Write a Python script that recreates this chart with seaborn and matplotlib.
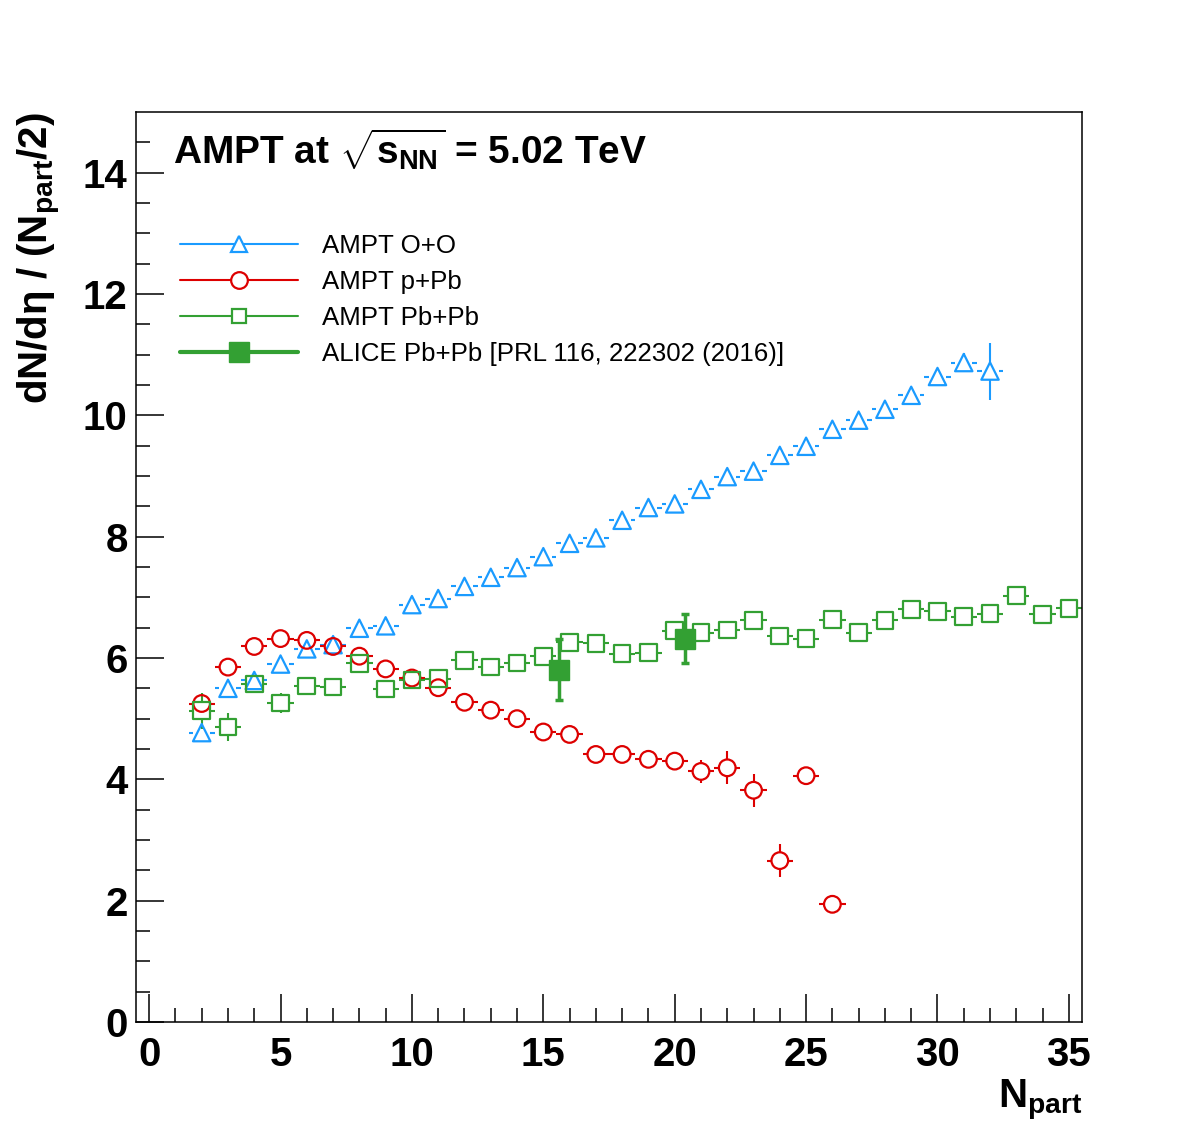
import numpy as np
import matplotlib
matplotlib.use('Agg')
import matplotlib.pyplot as plt
import seaborn as sns
from matplotlib.lines import Line2D

# AMPT O+O
npart_oo = list(range(2, 33))
dn_oo = [4.77, 5.50, 5.63, 5.90, 6.15, 6.22, 6.49, 6.53, 6.88, 6.98, 7.18,
         7.33, 7.49, 7.67, 7.89, 7.98, 8.27, 8.48, 8.54, 8.78, 8.99, 9.08,
         9.34, 9.49, 9.77, 9.92, 10.10, 10.33, 10.64, 10.87, 10.73]
err_oo = [0.05] * 29 + [0.16, 0.47]

# AMPT p+Pb
npart_ppb = list(range(2, 27))
dn_ppb = [5.25, 5.85, 6.19, 6.32, 6.29, 6.19, 6.03, 5.82, 5.67, 5.51, 5.27,
          5.14, 5.00, 4.78, 4.74, 4.41, 4.41, 4.33, 4.30, 4.13, 4.19, 3.82,
          2.66, 4.06, 1.94]
err_ppb = [0.12] + [0.05] * 18 + [0.19, 0.27, 0.27, 0.27, 0.08, 0.08]

# AMPT Pb+Pb
npart_pbpb = list(range(2, 36))
dn_pbpb = [5.13, 4.86, 5.57, 5.26, 5.54, 5.52, 5.91, 5.49, 5.64, 5.66, 5.96,
           5.85, 5.92, 6.03, 6.26, 6.24, 6.07, 6.09, 6.45, 6.42, 6.46, 6.62,
           6.36, 6.32, 6.63, 6.42, 6.62, 6.80, 6.77, 6.68, 6.73, 7.03, 6.72,
           6.82]
err_pbpb = [0.3, 0.23, 0.15, 0.17, 0.15, 0.08, 0.14] + [0.08] * 27

# ALICE Pb+Pb
npart_alice = [15.6, 20.4]
dn_alice = [5.81, 6.32]
err_alice = [0.50, 0.41]

labels = ['AMPT O+O', 'AMPT p+Pb', 'AMPT Pb+Pb',
          'ALICE Pb+Pb [PRL 116, 222302 (2016)]']

c_oo = '#1a9bff'
c_ppb = '#dd0000'
c_pbpb = '#33a033'

sns.set_theme(style='ticks')
plt.rcParams['font.family'] = ['Liberation Sans', 'DejaVu Sans']
plt.rcParams['mathtext.fontset'] = 'custom'
plt.rcParams['mathtext.rm'] = 'Liberation Sans:bold'
plt.rcParams['mathtext.bf'] = 'Liberation Sans:bold'
plt.rcParams['mathtext.it'] = 'Liberation Sans:bold'
plt.rcParams['mathtext.default'] = 'bf'
for key in ['text.color', 'axes.labelcolor', 'xtick.color', 'ytick.color']:
    plt.rcParams[key] = 'black'

fig = plt.figure(figsize=(11.82, 11.36), dpi=100)
ax = fig.add_axes([136 / 1182, 1 - 1022 / 1136, 946 / 1182, 910 / 1136])
xlim = (-0.5, 35.5)
ylim = (0, 15)
ax.set_xlim(*xlim)
ax.set_ylim(*ylim)

# marker half size (px) converted to data units, so error bars stop at the marker
half_px = 8.5
gx = half_px * (xlim[1] - xlim[0]) / 946
gy = half_px * (ylim[1] - ylim[0]) / 910


def draw_errors(x, y, e, color):
    x = np.asarray(x, float)
    y = np.asarray(y, float)
    e = np.asarray(e, float)
    ax.hlines(y, x - 0.5, x - gx, color=color, lw=1.5, zorder=2)
    ax.hlines(y, x + gx, x + 0.5, color=color, lw=1.5, zorder=2)
    m = e > gy
    ax.vlines(x[m], y[m] + gy, y[m] + e[m], color=color, lw=1.5, zorder=2)
    ax.vlines(x[m], y[m] - e[m], y[m] - gy, color=color, lw=1.5, zorder=2)


draw_errors(npart_oo, dn_oo, err_oo, c_oo)
draw_errors(npart_ppb, dn_ppb, err_ppb, c_ppb)
draw_errors(npart_pbpb, dn_pbpb, err_pbpb, c_pbpb)

sns.scatterplot(x=npart_oo, y=dn_oo, marker='^', s=12.5 ** 2, facecolor='none',
                edgecolor=c_oo, linewidth=1.6, ax=ax, zorder=3)
sns.scatterplot(x=npart_ppb, y=dn_ppb, marker='o', s=12 ** 2, facecolor='none',
                edgecolor=c_ppb, linewidth=1.6, ax=ax, zorder=3)
sns.scatterplot(x=npart_pbpb, y=dn_pbpb, marker='s', s=12 ** 2, facecolor='none',
                edgecolor=c_pbpb, linewidth=1.6, ax=ax, zorder=3)

ax.errorbar(npart_alice, dn_alice, yerr=err_alice, fmt='s', ms=15,
            color=c_pbpb, ecolor=c_pbpb, elinewidth=2.5, capsize=3,
            capthick=2.5, zorder=4)

# axes styling (ROOT-like)
for s in ax.spines.values():
    s.set_linewidth(1.1)
    s.set_color('black')
ax.set_xticks(np.arange(0, 36, 5))
ax.set_xticks(np.arange(0, 36, 1), minor=True)
ax.set_yticks(np.arange(0, 15, 2))
ax.set_yticks(np.arange(0, 15, 0.5), minor=True)
ax.tick_params(axis='both', which='both', direction='in', top=False,
               right=False, color='black', width=1.1)
ax.tick_params(axis='both', which='major', length=20, labelsize=29)
ax.tick_params(axis='both', which='minor', length=10)
ax.tick_params(axis='x', which='major', pad=10)
ax.tick_params(axis='y', which='major', pad=6)
for lab in ax.get_xticklabels() + ax.get_yticklabels():
    lab.set_fontweight('bold')

ax.set_xlabel(r'N$_{part}$', fontsize=29, fontweight='bold', loc='right',
              labelpad=2)
ax.set_ylabel(r'dN/d$\eta$ / (N$_{part}$/2)', fontsize=29, fontweight='bold',
              loc='top', labelpad=14)

ax.text(0.039, 0.942, r'AMPT at $\sqrt{s_{NN}}$ = 5.02 TeV', transform=ax.transAxes,
        fontsize=28, fontweight='bold', va='baseline', ha='left')

handles = [
    Line2D([], [], color=c_oo, lw=1.5, marker='^', ms=11, mfc='white', mec=c_oo, mew=1.6),
    Line2D([], [], color=c_ppb, lw=1.5, marker='o', ms=12, mfc='white', mec=c_ppb, mew=1.6),
    Line2D([], [], color=c_pbpb, lw=1.5, marker='s', ms=10, mfc='white', mec=c_pbpb, mew=1.6),
    Line2D([], [], color=c_pbpb, lw=3, marker='s', ms=15, mfc=c_pbpb, mec=c_pbpb),
]
ax.legend(handles, labels, loc='upper left', bbox_to_anchor=(0.0465, 0.866),
          frameon=False, fontsize=18.6, handlelength=4.55, handletextpad=0.95,
          labelspacing=0.46, borderaxespad=0, borderpad=0)

fig.savefig('out.png', dpi=100)
plt.close(fig)
